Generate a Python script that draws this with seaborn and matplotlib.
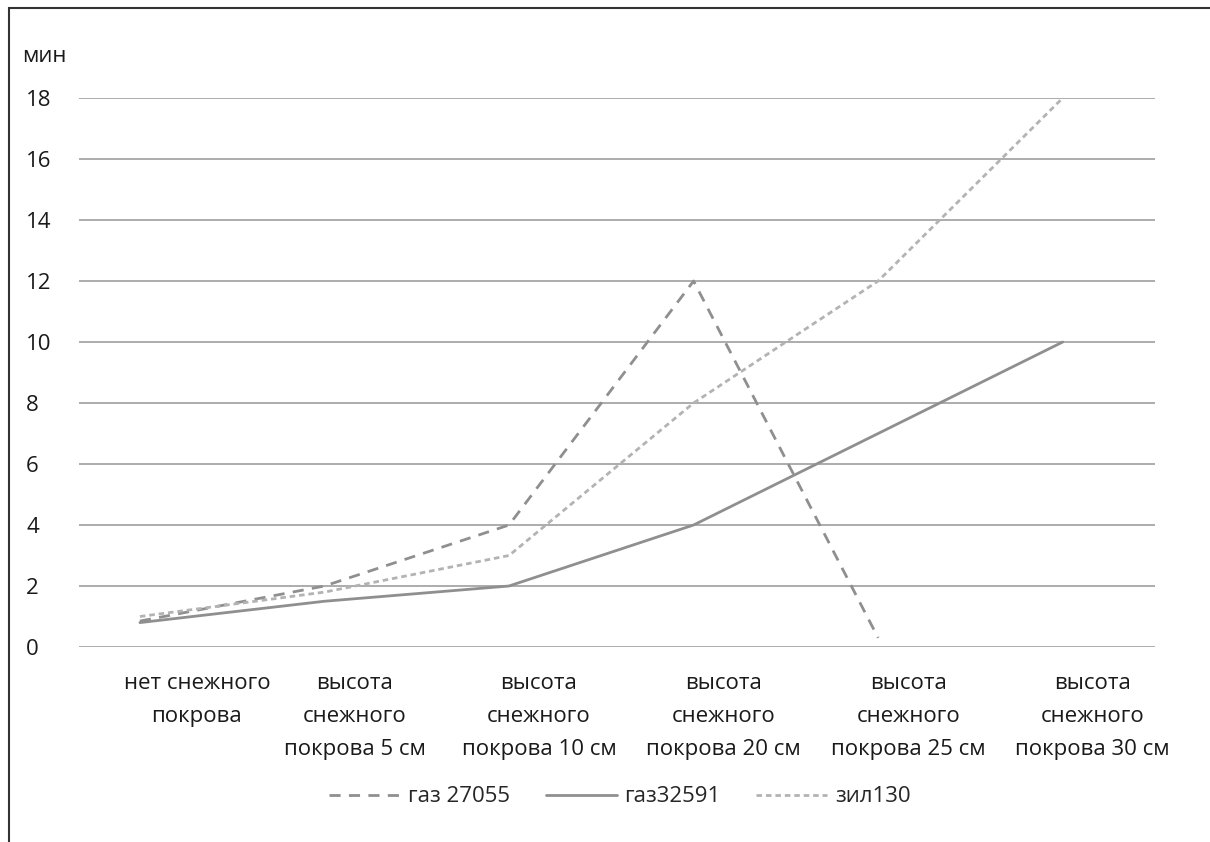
import numpy as np
import pandas as pd
import seaborn as sns
import matplotlib.pyplot as plt
from matplotlib.transforms import ScaledTranslation
from matplotlib.patches import Rectangle

# категории (высота снежного покрова) и значения по машинам, мин
categories = ['нет снежного\nпокрова',
              'высота\nснежного\nпокрова 5 см',
              'высота\nснежного\nпокрова 10 см',
              'высота\nснежного\nпокрова 20 см',
              'высота\nснежного\nпокрова 25 см',
              'высота\nснежного\nпокрова 30 см']
gaz27055 = [0.85, 2, 4, 12, 0.3, np.nan]
gaz32591 = [0.8, 1.5, 2, 4, 7, 10]
zil130 = [1.0, 1.8, 3, 8, 12, 18]
series_names = ['газ 27055', 'газ32591', 'зил130']
yticks = [0, 2, 4, 6, 8, 10, 12, 14, 16, 18]

# long format for seaborn
df = pd.DataFrame({
    'pos': list(range(len(categories))) * 3,
    'value': gaz27055 + gaz32591 + zil130,
    'series': np.repeat(series_names, len(categories)),
})

sns.set_style('white')
plt.rcParams['font.family'] = ['Open Sans', 'DejaVu Sans']

fig = plt.figure(figsize=(12.1, 8.42), dpi=100)
ax = fig.add_axes([79 / 1210, 1 - 647 / 842, (1155 - 79) / 1210, (647 - 98) / 842])

palette = {'газ 27055': '#8f8f8f', 'газ32591': '#8f8f8f', 'зил130': '#b3b3b3'}
dashes = {'газ 27055': (4, 3), 'газ32591': '', 'зил130': (2, 1.4)}
sns.lineplot(data=df, x='pos', y='value', hue='series', style='series',
             palette=palette, dashes=dashes, linewidth=2.0, ax=ax,
             legend=True, clip_on=False)

ax.set_ylim(0, 18)
ax.set_xlim(-0.33, 5.5)
ax.set_yticks(yticks)
ax.set_yticklabels([str(v) for v in yticks], fontsize=16, color='#1a1a1a')
ax.yaxis.grid(True, color='#a6a6a6', linewidth=1.3)
ax.set_axisbelow(True)
for s in ax.spines.values():
    s.set_visible(False)
ax.tick_params(axis='y', length=0, pad=38)
for lbl in ax.get_yticklabels():
    lbl.set_horizontalalignment('left')

ax.set_xticks(range(len(categories)))
ax.set_xticklabels(categories, fontsize=16, color='#1a1a1a', linespacing=1.75, va='top')
ax.tick_params(axis='x', length=0, pad=19)
# подписи категорий сдвинуты вправо относительно точек, как в оригинале
for i, lbl in enumerate(ax.get_xticklabels()):
    shift = 57 if i == 0 else 30
    lbl.set_transform(lbl.get_transform() + ScaledTranslation(shift / 100, 0, fig.dpi_scale_trans))
ax.set_xlabel('')
ax.set_ylabel('')

fig.text(22 / 1210, 1 - 57 / 842, 'мин', fontsize=16, color='#1a1a1a', va='center')

handles, labels = ax.get_legend_handles_labels()
ax.legend(handles, labels, loc='center', bbox_to_anchor=(620 / 1210, 1 - 797 / 842),
          bbox_transform=fig.transFigure, ncol=3, frameon=False, fontsize=16,
          handlelength=3.2, handletextpad=0.35, columnspacing=1.6)

# рамка диаграммы
fig.patches.append(Rectangle((9 / 1210, -0.05), 1.2, 1 - 8 / 842 + 0.05,
                             transform=fig.transFigure, fill=False,
                             edgecolor='#333333', linewidth=1.5))

fig.savefig('out.png', dpi=100)
